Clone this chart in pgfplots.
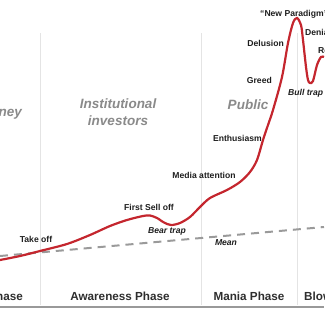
\documentclass[border=0pt]{standalone}
\usepackage{pgfplots}
\pgfplotsset{compat=1.18}
\usepackage{fontspec}
\setmainfont{Liberation Sans}
\definecolor{curvered}{HTML}{C4262E}
\definecolor{txt}{HTML}{1E1E1E}
\definecolor{phase}{HTML}{2E2E2E}
\definecolor{grp}{HTML}{8A8A8A}
\definecolor{meanc}{HTML}{9A9A9A}
\definecolor{divc}{HTML}{E4E4E4}
\begin{document}
\begin{tikzpicture}
\begin{axis}[name=ax, width=324pt, height=332pt, scale only axis,
  xmin=0, xmax=324, ymin=0, ymax=332, y dir=reverse, hide axis, clip=false]
% divider lines
\addplot[divc, line width=1pt] coordinates {(41,33) (41,305)};
\addplot[divc, line width=1pt] coordinates {(201,33) (201,305)};
\addplot[divc, line width=1pt] coordinates {(297,33) (297,305)};
% bottom line
\addplot[gray!80, line width=2pt] coordinates {(0,307) (324,307)};
% mean
\addplot[meanc, line width=2pt, dash pattern=on 8pt off 6pt] coordinates {(0,256) (324,227)};
% curve
\addplot[curvered, line width=2.2pt, smooth, tension=0.5] coordinates {
(0,260) (20,256) (40,251) (67,244) (90,235) (110,226) (127,220) (143,216)
(150,215.5) (157,218) (164,222.5) (171,225) (180,223) (190,217) (200,207)
(210,198) (227,190) (240,182) (250,172) (257,160) (263,140) (268,125)
(273,110) (282,77) (288,43) (293,23) (297,18) (301,25) (303,40) (306,67)
(308,80) (310,83) (313,81) (317,65) (321,57) (324,57)};
% phase labels
\node[anchor=east, font=\bfseries\fontsize{11.7}{12}\selectfont, text=phase, inner sep=0pt] at (axis cs:23,296) {Stealth Phase};
\node[font=\bfseries\fontsize{11.7}{12}\selectfont, text=phase, inner sep=0pt] at (axis cs:120,296) {Awareness Phase};
\node[font=\bfseries\fontsize{11.7}{12}\selectfont, text=phase, inner sep=0pt] at (axis cs:249,296) {Mania Phase};
\node[anchor=west, font=\bfseries\fontsize{11.7}{12}\selectfont, text=phase, inner sep=0pt] at (axis cs:304,296) {Blow-off Phase};
% group labels
\node[anchor=east, font=\bfseries\itshape\fontsize{13.5}{14}\selectfont, text=grp, inner sep=0pt] at (axis cs:22,113) {Smart Money};
\node[align=center, font=\bfseries\itshape\fontsize{13.5}{17}\selectfont, text=grp, inner sep=0pt] at (axis cs:118,112) {Institutional\\investors};
\node[font=\bfseries\itshape\fontsize{13.5}{14}\selectfont, text=grp, inner sep=0pt] at (axis cs:248,105) {Public};
% labels
\tikzset{lab/.style={font=\bfseries\fontsize{8.6}{9}\selectfont, text=txt, inner sep=0pt}}
\node[lab] at (axis cs:36,239) {Take off};
\node[lab] at (axis cs:149,207) {First Sell off};
\node[lab, font=\bfseries\itshape\fontsize{8.6}{9}\selectfont] at (axis cs:167,231) {Bear trap};
\node[lab, font=\bfseries\itshape\fontsize{8.6}{9}\selectfont] at (axis cs:226,243) {Mean};
\node[lab] at (axis cs:204,175) {Media attention};
\node[lab, anchor=east] at (axis cs:262,138) {Enthusiasm};
\node[lab, anchor=east] at (axis cs:272,80) {Greed};
\node[lab, anchor=east] at (axis cs:284,43) {Delusion};
\node[lab, anchor=west] at (axis cs:260,14) {``New Paradigm''};
\node[lab, anchor=west] at (axis cs:305,32) {Denial};
\node[lab, anchor=west] at (axis cs:318,50) {Return to ``normal''};
\node[lab, anchor=west, font=\bfseries\itshape\fontsize{8.6}{9}\selectfont] at (axis cs:288,93) {Bull trap};
\end{axis}
\pgfresetboundingbox
\path[use as bounding box] (ax.south west) rectangle (ax.north east);
\end{tikzpicture}
\end{document}
